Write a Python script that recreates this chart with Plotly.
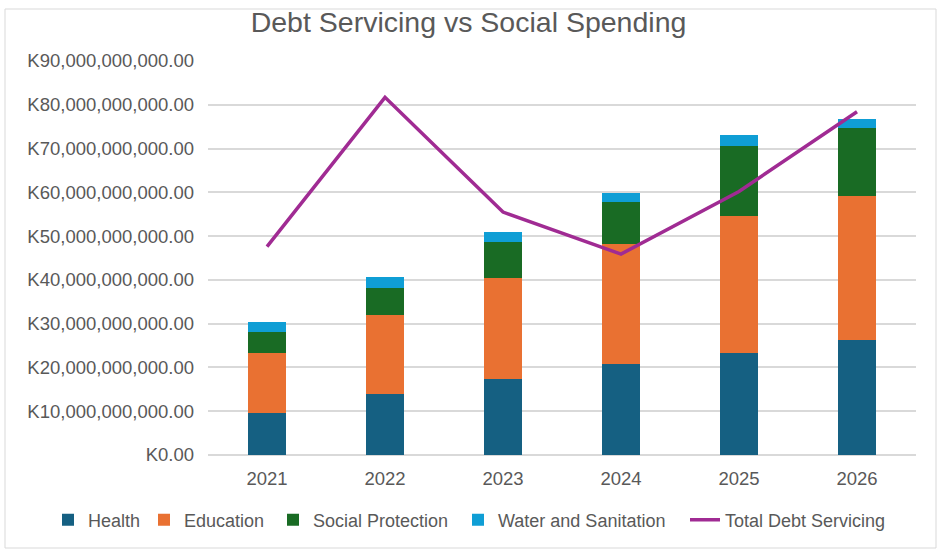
import plotly.graph_objects as go

years = ["2021", "2022", "2023", "2024", "2025", "2026"]
health = [9.5e9, 13.9e9, 17.4e9, 20.8e9, 23.2e9, 26.3e9]
education = [13.9e9, 18.1e9, 23.1e9, 27.5e9, 31.4e9, 32.8e9]
social_protection = [4.8e9, 6.2e9, 8.1e9, 9.5e9, 16.0e9, 15.6e9]
water_sanitation = [2.2e9, 2.5e9, 2.4e9, 2.1e9, 2.6e9, 2.0e9]
total_debt_servicing = [47.6e9, 81.7e9, 55.5e9, 45.9e9, 60.2e9, 78.4e9]

FONT = "Liberation Sans, Arial, sans-serif"
GRAY = "#595959"
W, H = 937, 549

fig = go.Figure()
series = [
    ("Health", health, "#156082"),
    ("Education", education, "#E97132"),
    ("Social Protection", social_protection, "#196B24"),
    ("Water and Sanitation", water_sanitation, "#0F9ED5"),
]
legend_ids = ["legend", "legend2", "legend3", "legend4", "legend5"]
text_starts = [87, 183, 312, 497, 724]

for (name, vals, col), lid in zip(series, legend_ids):
    fig.add_trace(go.Bar(x=years, y=vals, name=name, legend=lid,
                         marker=dict(color=col, line=dict(width=0))))

fig.add_trace(go.Scatter(x=years, y=total_debt_servicing, name="Total Debt Servicing",
                         legend="legend5", mode="lines",
                         line=dict(color="#A02B93", width=3.5)))

legend_common = dict(orientation="h", xref="container", yref="container",
                     xanchor="left", yanchor="middle", y=1 - 520 / H,
                     font=dict(size=18, color=GRAY, family=FONT),
                     bgcolor="rgba(0,0,0,0)", itemwidth=30)
legends = {}
for lid, ts in zip(legend_ids, text_starts):
    legends[lid] = dict(legend_common, x=(ts - 39) / W)

fig.update_layout(
    width=W, height=H,
    barmode="stack", bargap=0.68,
    paper_bgcolor="white", plot_bgcolor="white",
    margin=dict(l=208, r=21, t=61, b=94, autoexpand=False),
    font=dict(family=FONT, color=GRAY, size=18),
    title=dict(text="Debt Servicing vs Social Spending", x=0.5, xref="container",
               y=1 - 22 / H, yref="container", yanchor="middle", xanchor="center",
               font=dict(size=28.5, color=GRAY, family=FONT)),
    showlegend=True,
    **legends,
)
fig.update_xaxes(showgrid=False, showline=False, ticks="", ticklabelstandoff=10,
                 tickfont=dict(size=18.5, color=GRAY))
fig.update_yaxes(range=[0, 9e10], dtick=1e10, tickprefix="K", tickformat=",.2f",
                 showgrid=True, gridcolor="#d9d9d9", gridwidth=1.5,
                 zeroline=True, zerolinecolor="#d9d9d9", zerolinewidth=1.5,
                 showline=False, ticks="", ticklabelstandoff=13,
                 tickfont=dict(size=18.5, color=GRAY))

fig.add_shape(type="rect", xref="paper", yref="paper",
              x0=(5 - 208) / 708, x1=(936 - 208) / 708,
              y0=(455 - 548) / 394, y1=(455 - 9) / 394,
              line=dict(color="#d9d9d9", width=1), fillcolor="rgba(0,0,0,0)", layer="below")

fig.write_html("out.html")
